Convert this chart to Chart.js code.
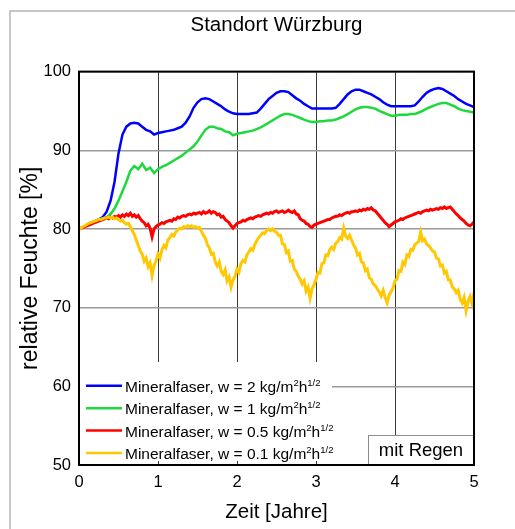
<!DOCTYPE html>
<html>
<head>
<meta charset="utf-8">
<script src="https://cdn.jsdelivr.net/npm/chart.js@4.4.1/dist/chart.umd.min.js"></script>
<style>
  html, body { margin: 0; padding: 0; background: #fff; }
</style>
</head>
<body>
<canvas id="myChart" width="515" height="529"></canvas>
<script>
// w-Werte der vier Varianten, Linienfarben und -stärken
const wWerte = ['2', '1', '0.5', '0.1']
const farben = ['#0000ff', '#1ed93c', '#ff0000', '#ffc800']
const staerken = [2.5, 2.5, 3, 3]

// relative Feuchte [%], Schritt 0.05 Jahre (0 ... 5)
const blau = [
  80.0, 80.2, 80.5, 80.8, 81.0, 81.2, 81.5, 82.2, 83.6, 86.0,
  89.6, 92.0, 93.0, 93.4, 93.5, 93.4, 93.0, 92.6, 92.4, 92.0,
  92.2, 92.3, 92.4, 92.5, 92.6, 92.8, 93.0, 93.5, 94.3, 95.4,
  96.1, 96.5, 96.6, 96.5, 96.2, 95.9, 95.6, 95.2, 94.9, 94.7,
  94.6, 94.6, 94.6, 94.6, 94.7, 94.8, 95.3, 95.9, 96.5, 96.9,
  97.3, 97.5, 97.5, 97.4, 97.0, 96.6, 96.3, 95.9, 95.6, 95.3,
  95.3, 95.3, 95.3, 95.3, 95.3, 95.4, 95.9, 96.5, 97.1, 97.5,
  97.7, 97.7, 97.5, 97.3, 97.1, 96.8, 96.5, 96.1, 95.8, 95.6,
  95.6, 95.6, 95.6, 95.6, 95.6, 95.7, 96.2, 96.8, 97.3, 97.6,
  97.8, 97.9, 97.8, 97.5, 97.2, 96.9, 96.5, 96.2, 95.9, 95.7,
  95.5
]
const gruen = [
  80.0, 80.2, 80.5, 80.8, 81.0, 81.2, 81.3, 81.5, 81.9, 82.6,
  83.6, 84.8, 86.0, 87.4, 88.0, 87.6, 88.3, 87.5, 87.8, 87.1,
  87.6, 87.9, 88.1, 88.4, 88.7, 89.0, 89.3, 89.7, 90.1, 90.5,
  91.1, 91.9, 92.6, 93.0, 93.0, 92.8, 92.7, 92.4, 92.3, 91.9,
  92.1, 92.2, 92.3, 92.4, 92.5, 92.7, 92.9, 93.2, 93.5, 93.8,
  94.1, 94.4, 94.6, 94.6, 94.5, 94.3, 94.1, 93.9, 93.7, 93.6,
  93.6, 93.7, 93.7, 93.8, 93.8, 93.9, 94.1, 94.3, 94.6, 94.9,
  95.2, 95.4, 95.5, 95.5, 95.4, 95.3, 95.0, 94.8, 94.6, 94.4,
  94.4, 94.5, 94.5, 94.5, 94.6, 94.6, 94.8, 95.0, 95.3, 95.5,
  95.7, 95.9, 96.0, 96.0, 95.8, 95.6, 95.3, 95.1, 95.0, 94.9,
  94.8
]

// Schritt 0.025 Jahre (0 ... 5)
const rot = [
  80.0, 80.1, 80.2, 80.3, 80.4, 80.5, 80.6, 80.7, 80.8, 80.9,
  81.0, 81.1, 81.2, 81.3, 81.4, 81.3, 81.5, 81.4, 81.6, 81.5,
  81.7, 81.5, 81.8, 81.6, 81.9, 81.7, 82.0, 81.6, 81.8, 81.5,
  81.7, 81.3, 81.0, 80.8, 80.4, 80.6, 80.1, 79.0, 80.0, 80.3,
  80.5, 80.6, 80.8, 80.7, 80.9, 81.0, 81.1, 81.0, 81.3, 81.2,
  81.5, 81.4, 81.6, 81.7, 81.6, 81.8, 81.9, 81.8, 82.0, 81.9,
  82.0, 82.1, 81.9, 82.2, 82.0, 82.1, 82.3, 82.0, 82.2, 82.1,
  81.8, 81.9, 81.5, 81.6, 81.2, 81.0, 80.8, 80.4, 80.1, 80.4,
  80.7, 80.8, 80.9, 81.1, 81.0, 81.2, 81.3, 81.4, 81.3, 81.5,
  81.6, 81.7, 81.6, 81.8, 81.9, 82.0, 81.9, 82.1, 82.0, 82.2,
  82.3, 82.1, 82.2, 82.3, 82.1, 82.2, 82.4, 82.2, 82.1, 82.3,
  81.9, 81.8, 81.3, 81.1, 81.0, 80.7, 80.6, 80.3, 80.2, 80.5,
  80.6, 80.7, 80.8, 80.9, 81.0, 81.1, 81.2, 81.2, 81.4, 81.5,
  81.6, 81.6, 81.8, 81.7, 81.9, 82.0, 82.1, 82.0, 82.2, 82.2,
  82.3, 82.2, 82.4, 82.3, 82.5, 82.4, 82.6, 82.5, 82.7, 82.4,
  82.3, 82.0, 81.7, 81.4, 81.1, 80.8, 80.6, 80.3, 80.5, 80.7,
  80.9, 81.0, 81.1, 81.3, 81.2, 81.4, 81.5, 81.6, 81.7, 81.8,
  81.9, 82.0, 82.1, 82.0, 82.2, 82.3, 82.4, 82.3, 82.5, 82.4,
  82.5, 82.6, 82.5, 82.7, 82.6, 82.8, 82.6, 82.7, 82.8, 82.5,
  82.2, 81.9, 81.7, 81.4, 81.2, 81.0, 80.7, 80.5, 80.4, 80.6,
  80.9
]
const gelb = [
  79.9, 80.1, 80.3, 80.4, 80.6, 80.7, 80.8, 80.9, 81.0, 81.1,
  81.2, 81.2, 81.3, 81.4, 81.4, 81.5, 81.4, 81.5, 81.3, 81.4,
  81.2, 81.0, 81.1, 80.8, 80.6, 80.7, 80.3, 79.8, 79.3, 78.6,
  77.9, 77.2, 76.8, 75.9, 76.3, 75.2, 75.7, 74.1, 75.4, 75.9,
  76.8, 76.3, 77.4, 77.9, 77.6, 78.6, 78.9, 79.3, 79.1, 79.6,
  79.9, 80.1, 80.0, 80.3, 80.2, 80.4, 80.3, 80.4, 80.2, 80.3,
  80.1, 80.2, 79.7, 79.2, 78.8, 78.0, 77.6, 76.8, 76.9, 75.8,
  75.3, 75.8, 74.6, 74.2, 74.8, 73.4, 73.9, 72.6, 73.5, 74.0,
  74.9, 74.5, 75.6, 76.0, 75.8, 76.7, 77.1, 77.5, 77.3, 78.0,
  78.5, 78.9, 79.2, 79.5, 79.4, 79.8, 80.0, 79.8, 80.0, 79.7,
  79.6, 79.2, 79.2, 78.1, 78.0, 77.0, 77.2, 75.9, 76.0, 74.9,
  74.6, 74.0, 73.6, 73.0, 73.4, 72.1, 72.6, 71.2, 72.4, 72.9,
  73.6, 74.5, 74.4, 75.6, 75.7, 76.7, 76.6, 77.4, 77.7, 77.4,
  78.2, 78.4, 78.9, 78.7, 80.1, 79.1, 78.8, 79.2, 78.6, 78.0,
  77.6, 76.7, 76.9, 75.8, 75.7, 74.7, 74.9, 73.8, 73.6, 73.0,
  72.8, 72.4, 72.0, 71.5, 72.2, 71.3, 70.6, 71.6, 72.0, 72.5,
  73.4, 73.6, 74.7, 74.6, 75.8, 75.5, 76.7, 76.5, 77.4, 77.3,
  78.0, 78.2, 78.4, 79.6, 78.5, 78.7, 78.1, 77.9, 77.6, 77.2,
  77.1, 76.3, 76.2, 75.3, 75.4, 74.4, 74.6, 73.5, 73.5, 72.6,
  72.4, 71.9, 72.2, 71.1, 70.6, 71.3, 69.6, 70.8, 71.4, 70.5,
  71.9
]

const reihen = [blau, gruen, rot, gelb]
const schrift = "'Liberation Sans', Arial, sans-serif"

// Zeitachse passend zur Länge der Reihe (5 Jahre)
const mitZeit = werte => werte.map((v, i) => ({ x: i * 5 / (werte.length - 1), y: v }))

// Rahmen um die ganze Grafik (grau, links/oben)
const aussenRahmen = {
  id: 'aussenRahmen',
  beforeDraw(chart) {
    const { ctx } = chart
    ctx.save()
    ctx.fillStyle = '#fff'
    ctx.fillRect(0, 0, chart.width, chart.height)
    ctx.strokeStyle = '#b4b4b4'
    ctx.lineWidth = 1.5
    ctx.strokeRect(10, 11, chart.width + 20, chart.height + 20)
    ctx.restore()
  }
}

// Legende im Diagramm unten links, "mit Regen" unten rechts, Diagrammrahmen
const legende = {
  id: 'legende',
  afterDatasetsDraw(chart) {
    const { ctx, chartArea: a } = chart
    ctx.save()
    ctx.fillStyle = '#fff'
    ctx.fillRect(a.left + 1, a.bottom - 103, 252, 99)

    chart.data.datasets.forEach((ds, i) => {
      const y = a.bottom - 12 - (3 - i) * 22.4
      ctx.strokeStyle = ds.borderColor
      ctx.lineWidth = 2.5
      ctx.beginPath()
      ctx.moveTo(a.left + 7, y)
      ctx.lineTo(a.left + 43, y)
      ctx.stroke()

      let x = a.left + 46
      const basis = y + 6
      ctx.fillStyle = '#000'
      ctx.textBaseline = 'alphabetic'
      ctx.textAlign = 'left'
      const teile = [
        ['Mineralfaser, w = ' + wWerte[i] + ' kg/m', false],
        ['2', true],
        ['h', false],
        ['1/2', true]
      ]
      teile.forEach(([txt, hoch]) => {
        ctx.font = (hoch ? '9.5px ' : '15.5px ') + schrift
        ctx.fillText(txt, x, hoch ? basis - 6 : basis)
        x += ctx.measureText(txt).width
      })
    })

    // Kasten "mit Regen"
    const kx = a.right - 106, ky = a.bottom - 30
    ctx.fillStyle = '#fff'
    ctx.fillRect(kx, ky, 106, 30)
    ctx.strokeStyle = '#8c8c8c'
    ctx.lineWidth = 1
    ctx.strokeRect(kx + 0.5, ky + 0.5, 106, 30)
    ctx.fillStyle = '#000'
    ctx.font = '18.5px ' + schrift
    ctx.textAlign = 'center'
    ctx.textBaseline = 'middle'
    ctx.fillText('mit Regen', kx + 53, ky + 16)

    // Diagrammrahmen
    ctx.strokeStyle = '#000'
    ctx.lineWidth = 2
    ctx.strokeRect(a.left, a.top, a.right - a.left, a.bottom - a.top)
    ctx.restore()
  }
}

const ctx = document.getElementById('myChart').getContext('2d')
const myChart = new Chart(ctx, {
  type: 'line',
  data: {
    datasets: reihen.map((werte, i) => ({
      label: 'Mineralfaser, w = ' + wWerte[i] + ' kg/m²h^1/2',
      data: mitZeit(werte),
      borderColor: farben[i],
      backgroundColor: farben[i],
      borderWidth: staerken[i],
      pointRadius: 0,
      tension: 0,
      order: 3 - i
    }))
  },
  options: {
    responsive: false,
    animation: false,
    events: [],
    layout: { padding: { left: 17, right: 41, top: 0, bottom: 4 } },
    plugins: {
      legend: { display: false },
      tooltip: { enabled: false },
      title: {
        display: true,
        fullSize: false,
        text: 'Standort Würzburg',
        color: '#000',
        font: { family: schrift, size: 20.5, weight: 'normal' },
        padding: { top: 13, bottom: 34 }
      }
    },
    scales: {
      x: {
        type: 'linear',
        min: 0,
        max: 5,
        ticks: { stepSize: 1, color: '#000', padding: 8, font: { family: schrift, size: 16.5 } },
        grid: { color: '#3a3a3a', lineWidth: 1, drawTicks: false },
        border: { display: false },
        title: {
          display: true,
          text: 'Zeit [Jahre]',
          color: '#000',
          font: { family: schrift, size: 20.5 },
          padding: { top: 0, bottom: 0 }
        },
        afterFit(scale) { scale.height = 60 }
      },
      y: {
        min: 50,
        max: 100,
        ticks: { stepSize: 10, color: '#000', padding: 8, font: { family: schrift, size: 16.5 } },
        grid: { color: '#9a9a9a', lineWidth: 1.5, drawTicks: false },
        border: { display: false },
        title: {
          display: true,
          text: 'relative Feuchte [%]',
          color: '#000',
          font: { family: schrift, size: 23 },
          padding: { top: 0, bottom: 0 }
        },
        afterFit(scale) { scale.width = 62 }
      }
    }
  },
  plugins: [aussenRahmen, legende]
})
</script>
</body>
</html>
